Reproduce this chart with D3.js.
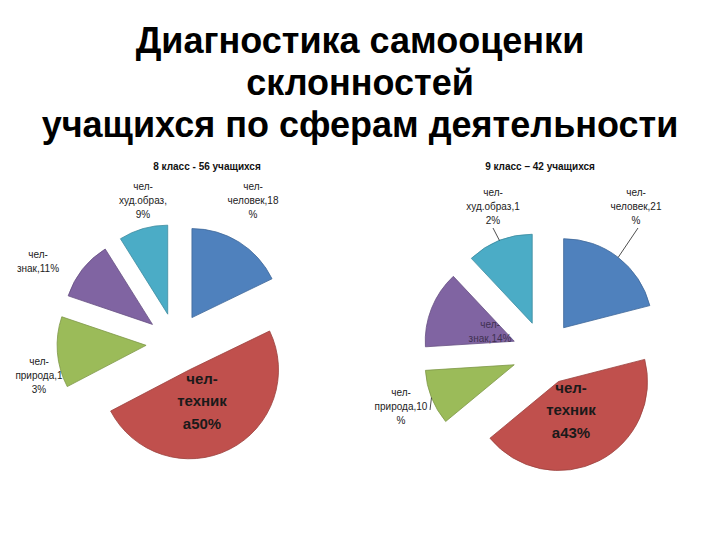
<!DOCTYPE html>
<html>
<head>
<meta charset="utf-8">
<script src="https://cdn.jsdelivr.net/npm/d3@7"></script>
<style>
  html, body { margin: 0; padding: 0; background: #ffffff; }
  svg { display: block; }
</style>
</head>
<body>
<svg id="chart" width="720" height="540"></svg>
<script>
// ---------- data ----------
const titleLines = ["Диагностика самооценки", "склонностей", "учащихся по сферам деятельности"];
const classTitles = ["8 класс - 56 учащихся", "9 класс – 42 учащихся"];
const categories = ["чел-человек", "чел-техника", "чел-природа", "чел-знак", "чел-худ.образ"];
const values8 = [18, 50, 13, 11, 9];
const values9 = [21, 43, 10, 14, 12];
const labels8 = [["чел-", "человек,18", "%"], ["чел-", "техник", "а50%"], ["чел-", "природа,1", "3%"], ["чел-", "знак,11%"], ["чел-", "худ.образ,", "9%"]];
const labels9 = [["чел-", "человек,21", "%"], ["чел-", "техник", "а43%"], ["чел-", "природа,10", "%"], ["чел-", "знак,14%"], ["чел-", "худ.образ,1", "2%"]];

// ---------- layout / style ----------
const colors = ["#4F81BD", "#C0504D", "#9BBB59", "#8064A2", "#4BACC6"];
const pies = [
  { cx: 176, cy: 343, r: 89, explode: 30, titleX: 207, titleY: 166, values: values8, labels: labels8,
    labelPos: [ {x: 253, y: 186}, {x: 202, y: 378, big: true}, {x: 39, y: 361}, {x: 38, y: 254}, {x: 143, y: 186} ],
    leaders: [] },
  { cx: 544, cy: 353, r: 89, explode: 32, titleX: 540, titleY: 166, values: values9, labels: labels9,
    labelPos: [ {x: 636, y: 192}, {x: 571, y: 387, big: true}, {x: 401, y: 392}, {x: 490, y: 324, color: "#3f3151"}, {x: 493, y: 192} ],
    leaders: [ {i: 0, x: 638, y: 228}, {i: 4, x: 493, y: 228}, {i: 2, x: 430, y: 410} ] }
];

const svg = d3.select("#chart");

// title
svg.append("g").selectAll("text").data(titleLines).join("text")
  .attr("x", 360)
  .attr("y", (d, i) => 53 + i * 42)
  .attr("text-anchor", "middle")
  .attr("font-family", "'Liberation Sans', Arial, sans-serif")
  .attr("font-weight", "bold")
  .attr("font-size", 36)
  .attr("fill", "#000")
  .text(d => d);

const pie = d3.pie().sort(null).value(d => d);

pies.forEach((p, pi) => {
  const g = svg.append("g").attr("transform", `translate(${p.cx},${p.cy})`);
  const arcs = pie(p.values);
  const arc = d3.arc().innerRadius(0).outerRadius(p.r);
  const mid = a => (a.startAngle + a.endAngle) / 2;
  const off = a => [Math.sin(mid(a)) * p.explode, -Math.cos(mid(a)) * p.explode];

  g.selectAll("path").data(arcs).join("path")
    .attr("transform", a => `translate(${off(a)[0]},${off(a)[1]})`)
    .attr("d", arc)
    .attr("fill", (a, i) => colors[i])
    .attr("stroke", (a, i) => d3.color(colors[i]).darker(0.6))
    .attr("stroke-width", 0.8);

  // class title
  svg.append("text")
    .attr("x", p.titleX).attr("y", p.titleY)
    .attr("text-anchor", "middle")
    .attr("dominant-baseline", "central")
    .attr("font-family", "'Liberation Sans', Arial, sans-serif")
    .attr("font-weight", "bold")
    .attr("font-size", 10)
    .attr("fill", "#111")
    .text(classTitles[pi]);

  // leader lines
  p.leaders.forEach(l => {
    const a = arcs[l.i];
    const o = off(a);
    const ex = p.cx + o[0] + Math.sin(mid(a)) * p.r;
    const ey = p.cy + o[1] - Math.cos(mid(a)) * p.r;
    svg.append("line")
      .attr("x1", l.x).attr("y1", l.y).attr("x2", ex).attr("y2", ey)
      .attr("stroke", "#222").attr("stroke-width", 0.8);
  });

  // labels
  p.labels.forEach((lines, i) => {
    const lp = p.labelPos[i];
    const big = !!lp.big;
    const t = svg.append("text")
      .attr("text-anchor", "middle")
      .attr("font-family", "'Liberation Sans', Arial, sans-serif")
      .attr("font-weight", big ? "bold" : "normal")
      .attr("font-size", big ? 15 : 10)
      .attr("fill", lp.color || (big ? "#1a1a1a" : "#222"));
    lines.forEach((s, k) => {
      t.append("tspan")
        .attr("x", lp.x)
        .attr("y", lp.y + k * (big ? 22.5 : 14))
        .attr("dominant-baseline", "central")
        .text(s);
    });
  });
});
</script>
</body>
</html>
